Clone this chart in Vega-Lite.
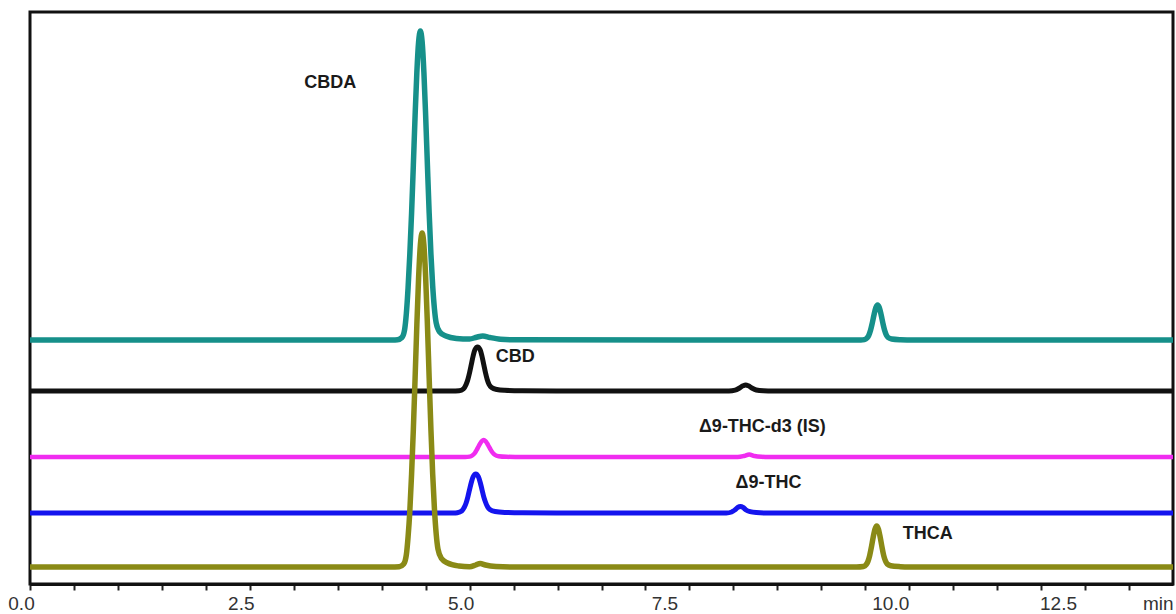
{
  "$schema": "https://vega.github.io/schema/vega-lite/v6.json",
  "width": 1143,
  "height": 572,
  "autosize": {"type": "none"},
  "padding": {"left": 30, "top": 12, "right": 3, "bottom": 30},
  "background": "white",
  "config": {
    "view": {"stroke": "#111111", "strokeWidth": 3},
    "font": "Liberation Sans"
  },
  "datasets": {
    "cbdaTrace": [
      {"t": 0, "v": 244}, {"t": 3.9, "v": 244}, {"t": 4.12, "v": 244.1}, {"t": 4.18, "v": 244.3},
      {"t": 4.23, "v": 246.5}, {"t": 4.26, "v": 254}, {"t": 4.28, "v": 270}, {"t": 4.30, "v": 296},
      {"t": 4.32, "v": 329.9}, {"t": 4.34, "v": 371}, {"t": 4.36, "v": 418.9}, {"t": 4.38, "v": 468.3},
      {"t": 4.40, "v": 511.9}, {"t": 4.42, "v": 542.2}, {"t": 4.44, "v": 553}, {"t": 4.46, "v": 542.2},
      {"t": 4.48, "v": 511.9}, {"t": 4.50, "v": 468.3}, {"t": 4.52, "v": 418.9}, {"t": 4.54, "v": 371},
      {"t": 4.56, "v": 329.9}, {"t": 4.58, "v": 298}, {"t": 4.60, "v": 275}, {"t": 4.62, "v": 261},
      {"t": 4.66, "v": 252}, {"t": 4.73, "v": 248}, {"t": 4.85, "v": 245.6}, {"t": 5.00, "v": 245},
      {"t": 5.08, "v": 246.8}, {"t": 5.15, "v": 248}, {"t": 5.23, "v": 246.5}, {"t": 5.35, "v": 244.8},
      {"t": 5.5, "v": 244.2},
      {"t": 9.45, "v": 244}, {"t": 9.49, "v": 244.4}, {"t": 9.52, "v": 246}, {"t": 9.54, "v": 248.7},
      {"t": 9.56, "v": 253.7}, {"t": 9.58, "v": 261}, {"t": 9.60, "v": 269.4}, {"t": 9.62, "v": 276.3},
      {"t": 9.64, "v": 279}, {"t": 9.66, "v": 276.3}, {"t": 9.68, "v": 269.4}, {"t": 9.70, "v": 261},
      {"t": 9.72, "v": 253.7}, {"t": 9.74, "v": 248.9}, {"t": 9.76, "v": 246.5}, {"t": 9.80, "v": 245},
      {"t": 9.90, "v": 244.3}, {"t": 10.05, "v": 244}, {"t": 13, "v": 244}
    ],
    "cbdTrace": [
      {"t": 0, "v": 193}, {"t": 4.80, "v": 193}, {"t": 4.88, "v": 193.3}, {"t": 4.93, "v": 195.2},
      {"t": 4.96, "v": 199.5}, {"t": 4.98, "v": 204.5}, {"t": 5.00, "v": 211.5}, {"t": 5.02, "v": 219.7},
      {"t": 5.04, "v": 228}, {"t": 5.06, "v": 234.2}, {"t": 5.09, "v": 237}, {"t": 5.12, "v": 234.2},
      {"t": 5.14, "v": 228}, {"t": 5.16, "v": 219.7}, {"t": 5.18, "v": 211.5}, {"t": 5.20, "v": 204.5},
      {"t": 5.22, "v": 199.8}, {"t": 5.25, "v": 196.5}, {"t": 5.31, "v": 194.5}, {"t": 5.40, "v": 193.7},
      {"t": 5.6, "v": 193.2}, {"t": 6.0, "v": 193}, {"t": 7.95, "v": 193}, {"t": 8.02, "v": 193.8},
      {"t": 8.07, "v": 196}, {"t": 8.11, "v": 198.2}, {"t": 8.14, "v": 199}, {"t": 8.17, "v": 198.2},
      {"t": 8.21, "v": 196}, {"t": 8.26, "v": 194}, {"t": 8.34, "v": 193.2}, {"t": 8.45, "v": 193},
      {"t": 13, "v": 193}
    ],
    "isTrace": [
      {"t": 0, "v": 127}, {"t": 4.95, "v": 127}, {"t": 5.00, "v": 127.4}, {"t": 5.03, "v": 128.5},
      {"t": 5.06, "v": 131}, {"t": 5.08, "v": 134}, {"t": 5.10, "v": 137.3}, {"t": 5.12, "v": 140.5},
      {"t": 5.14, "v": 143}, {"t": 5.16, "v": 144}, {"t": 5.18, "v": 143}, {"t": 5.20, "v": 140.5},
      {"t": 5.22, "v": 137.3}, {"t": 5.24, "v": 134.2}, {"t": 5.26, "v": 131.5}, {"t": 5.29, "v": 129},
      {"t": 5.33, "v": 127.8}, {"t": 5.42, "v": 127.2}, {"t": 5.6, "v": 127}, {"t": 8.05, "v": 127},
      {"t": 8.12, "v": 128}, {"t": 8.18, "v": 129.5}, {"t": 8.24, "v": 128}, {"t": 8.32, "v": 127.2},
      {"t": 8.4, "v": 127}, {"t": 13, "v": 127}
    ],
    "thcTrace": [
      {"t": 0, "v": 71}, {"t": 4.82, "v": 71}, {"t": 4.86, "v": 71.3}, {"t": 4.91, "v": 73},
      {"t": 4.94, "v": 76.8}, {"t": 4.96, "v": 81}, {"t": 4.98, "v": 87.2}, {"t": 5.00, "v": 94.7},
      {"t": 5.02, "v": 101.8}, {"t": 5.04, "v": 107.2}, {"t": 5.07, "v": 110}, {"t": 5.10, "v": 107.2},
      {"t": 5.12, "v": 101.8}, {"t": 5.14, "v": 94.7}, {"t": 5.16, "v": 87.4}, {"t": 5.18, "v": 82},
      {"t": 5.20, "v": 77.8}, {"t": 5.23, "v": 74.5}, {"t": 5.29, "v": 72.5}, {"t": 5.4, "v": 71.6},
      {"t": 5.6, "v": 71.2}, {"t": 6.0, "v": 71}, {"t": 7.92, "v": 71}, {"t": 7.98, "v": 72},
      {"t": 8.02, "v": 74.3}, {"t": 8.05, "v": 76.6}, {"t": 8.08, "v": 77.5}, {"t": 8.11, "v": 76.6},
      {"t": 8.14, "v": 74.3}, {"t": 8.19, "v": 72.3}, {"t": 8.26, "v": 71.4}, {"t": 8.4, "v": 71},
      {"t": 13, "v": 71}
    ],
    "thcaTrace": [
      {"t": 0, "v": 17}, {"t": 4.05, "v": 17}, {"t": 4.14, "v": 17.1}, {"t": 4.20, "v": 17.3},
      {"t": 4.25, "v": 20}, {"t": 4.28, "v": 29}, {"t": 4.30, "v": 47}, {"t": 4.32, "v": 73},
      {"t": 4.34, "v": 109.9}, {"t": 4.36, "v": 154.3}, {"t": 4.38, "v": 206}, {"t": 4.40, "v": 259.5},
      {"t": 4.42, "v": 306.6}, {"t": 4.44, "v": 339.3}, {"t": 4.46, "v": 351}, {"t": 4.48, "v": 339.3},
      {"t": 4.50, "v": 306.6}, {"t": 4.52, "v": 259.5}, {"t": 4.54, "v": 206}, {"t": 4.56, "v": 154.3},
      {"t": 4.58, "v": 109.9}, {"t": 4.60, "v": 75}, {"t": 4.62, "v": 50}, {"t": 4.64, "v": 35},
      {"t": 4.68, "v": 25.5}, {"t": 4.75, "v": 21}, {"t": 4.88, "v": 18}, {"t": 5.0, "v": 17.2},
      {"t": 5.07, "v": 19}, {"t": 5.12, "v": 20.5}, {"t": 5.18, "v": 19}, {"t": 5.3, "v": 17.5},
      {"t": 5.5, "v": 17},
      {"t": 9.40, "v": 17}, {"t": 9.48, "v": 17.5}, {"t": 9.51, "v": 19.3}, {"t": 9.53, "v": 22.5},
      {"t": 9.55, "v": 28.4}, {"t": 9.57, "v": 37}, {"t": 9.59, "v": 46.8}, {"t": 9.61, "v": 54.8},
      {"t": 9.63, "v": 58}, {"t": 9.65, "v": 54.8}, {"t": 9.67, "v": 46.8}, {"t": 9.69, "v": 37},
      {"t": 9.71, "v": 28.4}, {"t": 9.73, "v": 23}, {"t": 9.75, "v": 20}, {"t": 9.79, "v": 18.3},
      {"t": 9.9, "v": 17.3}, {"t": 10.0, "v": 17}, {"t": 13, "v": 17}
    ],
    "peakLabels": [
      {"t": 3.415, "v": 501, "label": "CBDA"},
      {"t": 5.52, "v": 227, "label": "CBD"},
      {"t": 8.33, "v": 157, "label": "Δ9-THC-d3 (IS)"},
      {"t": 8.40, "v": 101, "label": "Δ9-THC"},
      {"t": 10.21, "v": 50, "label": "THCA"}
    ]
  },
  "encoding": {
    "x": {
      "field": "t",
      "type": "quantitative",
      "scale": {"domain": [0, 13], "nice": false, "zero": false},
      "axis": {
        "values": [0, 0.5, 1, 1.5, 2, 2.5, 3, 3.5, 4, 4.5, 5, 5.5, 6, 6.5, 7, 7.5, 8, 8.5, 9, 9.5, 10, 10.5, 11, 11.5, 12, 12.5],
        "labelExpr": "datum.value % 2.5 == 0 ? format(datum.value, '.1f') : ''",
        "labelFlush": false,
        "labelOverlap": false,
        "labelBound": false,
        "labelFont": "Liberation Sans",
        "labelFontSize": 19,
        "labelColor": "#333333",
        "labelPadding": 4,
        "labelOffset": {
          "condition": [
            {"test": "datum.value == 12.5", "value": -71},
            {"test": "datum.value == 7.5", "value": -25},
            {"test": "datum.value == 10", "value": -19}
          ],
          "value": -9
        },
        "tickSize": 6,
        "tickWidth": 2,
        "tickColor": "#222222",
        "domainColor": "#111111",
        "domainWidth": 3,
        "grid": false,
        "title": "min",
        "titleFont": "Liberation Sans",
        "titleFontSize": 19,
        "titleFontWeight": "normal",
        "titleColor": "#333333",
        "titleAnchor": "end",
        "titleAlign": "right",
        "titleBaseline": "top",
        "titleX": 1143,
        "titleY": 10
      }
    },
    "y": {
      "field": "v",
      "type": "quantitative",
      "scale": {"domain": [0, 572], "nice": false, "zero": false},
      "axis": null
    }
  },
  "layer": [
    {"data": {"name": "cbdaTrace"}, "mark": {"type": "line", "color": "#16908a", "strokeWidth": 5.5, "interpolate": "monotone"}},
    {"data": {"name": "cbdTrace"}, "mark": {"type": "line", "color": "#111111", "strokeWidth": 5, "interpolate": "monotone"}},
    {"data": {"name": "isTrace"}, "mark": {"type": "line", "color": "#f02cf0", "strokeWidth": 4.5, "interpolate": "monotone"}},
    {"data": {"name": "thcTrace"}, "mark": {"type": "line", "color": "#1414ee", "strokeWidth": 5, "interpolate": "monotone"}},
    {"data": {"name": "thcaTrace"}, "mark": {"type": "line", "color": "#8a8a16", "strokeWidth": 5.5, "interpolate": "monotone"}},
    {
      "data": {"name": "peakLabels"},
      "mark": {"type": "text", "font": "Liberation Sans", "fontWeight": "bold", "fontSize": 18, "color": "#1a1a1a", "align": "center", "baseline": "middle"},
      "encoding": {"text": {"field": "label", "type": "nominal"}}
    }
  ]
}
